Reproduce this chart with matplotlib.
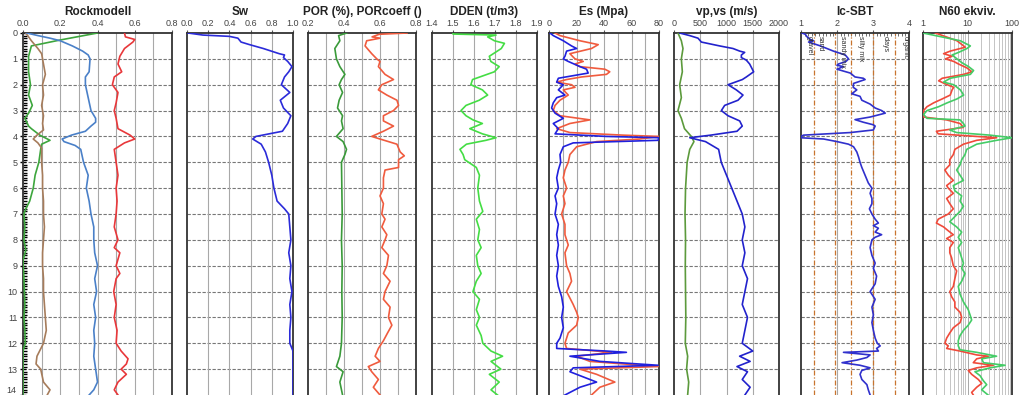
import numpy as np
import matplotlib
matplotlib.use('Agg')
import matplotlib.pyplot as plt
from matplotlib.ticker import MultipleLocator, FixedLocator, NullFormatter

plt.rcParams['font.family'] = ['Liberation Sans', 'DejaVu Sans']

# ---- Rockmodell ----
rock_green_d = [0, 0.27, 0.5, 0.9, 1.5, 2.0, 2.4, 2.8, 3.1, 3.3, 3.6, 3.7, 3.95, 4.15, 4.3, 4.5, 5.0, 5.5, 6.0, 6.5, 6.8, 7.0, 7.5, 8.0, 8.4, 8.8, 9.5, 10.5, 11.0, 11.5, 12.0, 12.3, 14.0]
rock_green = [0.40, 0.20, 0.045, 0.03, 0.03, 0.04, 0.03, 0.05, 0.03, 0.01, 0.03, 0.045, 0.09, 0.145, 0.10, 0.095, 0.085, 0.065, 0.055, 0.036, 0.015, 0.005, 0.01, 0.005, 0.015, 0.0, 0.005, 0.01, 0.005, 0.01, 0.012, 0.0, 0.0]
rock_brown_d = [0, 0.3, 0.6, 0.8, 1.2, 1.6, 2.0, 2.4, 2.8, 3.2, 3.5, 3.75, 3.95, 4.1, 4.25, 4.45, 5.0, 5.5, 6.0, 6.5, 7.0, 7.5, 8.0, 8.5, 9.0, 9.5, 10.0, 10.5, 11.0, 11.5, 12.0, 12.5, 12.8, 13.0, 13.5, 13.8, 14.0]
rock_brown = [0.015, 0.045, 0.08, 0.10, 0.11, 0.12, 0.105, 0.11, 0.10, 0.11, 0.105, 0.11, 0.075, 0.055, 0.08, 0.10, 0.10, 0.105, 0.105, 0.11, 0.11, 0.115, 0.11, 0.105, 0.105, 0.11, 0.11, 0.115, 0.12, 0.125, 0.11, 0.075, 0.07, 0.095, 0.11, 0.145, 0.13]
rock_blue_d = [0, 0.1, 0.2, 0.3, 0.5, 0.7, 0.85, 1.0, 1.5, 1.7, 2.0, 2.5, 3.0, 3.3, 3.45, 3.6, 3.8, 3.95, 4.1, 4.2, 4.35, 4.5, 5.0, 5.5, 6.0, 6.5, 7.0, 7.5, 8.0, 8.5, 9.0, 9.5, 10.0, 10.5, 11.0, 11.5, 12.0, 12.5, 13.0, 13.5, 13.8, 14.0]
rock_blue = [0.02, 0.08, 0.145, 0.20, 0.265, 0.32, 0.35, 0.36, 0.355, 0.335, 0.335, 0.35, 0.365, 0.39, 0.39, 0.365, 0.335, 0.26, 0.21, 0.22, 0.28, 0.31, 0.325, 0.35, 0.34, 0.355, 0.365, 0.38, 0.38, 0.385, 0.40, 0.385, 0.395, 0.38, 0.39, 0.38, 0.385, 0.38, 0.39, 0.40, 0.38, 0.355]
rock_red_d = [0, 0.15, 0.25, 0.35, 0.6, 0.9, 1.2, 1.5, 1.7, 2.0, 2.3, 2.7, 3.0, 3.3, 3.7, 3.95, 4.1, 4.25, 4.5, 5.0, 5.5, 6.0, 6.5, 7.0, 7.5, 8.0, 8.3, 8.5, 9.0, 9.3, 9.5, 10.0, 10.5, 11.0, 11.5, 12.0, 12.3, 12.6, 12.8, 13.0, 13.2, 13.5, 13.8, 14.0]
rock_red = [0.545, 0.55, 0.60, 0.59, 0.545, 0.52, 0.51, 0.53, 0.49, 0.48, 0.51, 0.50, 0.49, 0.50, 0.51, 0.575, 0.60, 0.545, 0.49, 0.50, 0.51, 0.50, 0.505, 0.50, 0.49, 0.51, 0.49, 0.52, 0.50, 0.52, 0.50, 0.487, 0.50, 0.49, 0.505, 0.50, 0.527, 0.564, 0.555, 0.527, 0.555, 0.51, 0.49, 0.51]

# ---- Sw ----
sw_d = [0, 0.08, 0.13, 0.2, 0.35, 0.45, 0.6, 0.8, 0.85, 0.95, 1.1, 1.3, 1.5, 1.7, 2.0, 2.3, 2.6, 2.9, 3.2, 3.5, 3.8, 4.0, 4.1, 4.3, 4.6, 5.0, 5.5, 6.0, 6.5, 6.8, 7.0, 7.5, 8.0, 8.5, 9.0, 9.5, 10.0, 10.5, 11.0, 11.5, 12.0, 12.3, 14.0]
sw = [0.01, 0.15, 0.40, 0.48, 0.51, 0.59, 0.72, 0.87, 0.92, 0.91, 0.95, 0.99, 0.96, 0.92, 0.89, 0.97, 0.88, 0.91, 0.98, 0.95, 0.90, 0.65, 0.62, 0.70, 0.74, 0.77, 0.80, 0.82, 0.85, 0.92, 0.96, 0.97, 0.98, 0.96, 0.98, 0.97, 0.99, 0.97, 0.98, 0.97, 0.97, 1.0, 1.0]

# ---- POR (%), PORcoeff () ----
por_d = [0, 0.1, 0.3, 0.6, 1.0, 1.3, 1.6, 1.8, 2.0, 2.3, 2.6, 2.9, 3.2, 3.4, 3.7, 4.0, 4.2, 4.5, 4.7, 5.0, 6.0, 7.0, 8.0, 9.0, 10.0, 11.0, 12.0, 12.5, 12.9, 13.1, 13.5, 14.0]
por = [0.415, 0.37, 0.377, 0.349, 0.358, 0.377, 0.405, 0.386, 0.373, 0.392, 0.373, 0.364, 0.392, 0.386, 0.395, 0.358, 0.395, 0.414, 0.405, 0.386, 0.388, 0.39, 0.386, 0.39, 0.388, 0.39, 0.386, 0.377, 0.358, 0.395, 0.377, 0.392]
porc_d = [0, 0.05, 0.15, 0.2, 0.3, 0.5, 0.8, 1.0, 1.1, 1.3, 1.6, 1.8, 2.0, 2.2, 2.4, 2.6, 2.8, 3.0, 3.2, 3.4, 3.6, 3.8, 4.0, 4.1, 4.3, 4.6, 4.75, 4.9, 5.2, 5.3, 5.6, 6.0, 6.3, 6.6, 7.0, 7.2, 7.5, 7.8, 8.0, 8.3, 8.6, 9.0, 9.3, 9.6, 10.0, 10.3, 10.6, 11.0, 11.3, 11.6, 11.9, 12.2, 12.5, 12.7, 12.9, 13.1, 13.4, 13.7, 14.0]
porc = [0.75, 0.595, 0.556, 0.60, 0.526, 0.517, 0.554, 0.582, 0.60, 0.591, 0.628, 0.675, 0.61, 0.591, 0.638, 0.694, 0.703, 0.675, 0.619, 0.619, 0.675, 0.619, 0.554, 0.60, 0.694, 0.712, 0.735, 0.703, 0.703, 0.628, 0.619, 0.619, 0.60, 0.619, 0.61, 0.628, 0.61, 0.638, 0.628, 0.61, 0.647, 0.638, 0.619, 0.656, 0.628, 0.619, 0.656, 0.647, 0.666, 0.642, 0.619, 0.591, 0.573, 0.60, 0.535, 0.554, 0.591, 0.563, 0.60]

# ---- DDEN (t/m3) ----
dden_d = [0, 0.04, 0.08, 0.15, 0.3, 0.4, 0.6, 0.9, 1.1, 1.3, 1.5, 1.8, 2.0, 2.2, 2.4, 2.6, 2.8, 3.0, 3.2, 3.36, 3.5, 3.7, 3.9, 4.05, 4.15, 4.3, 4.5, 4.7, 4.9, 5.2, 5.5, 6.0, 6.5, 6.9, 7.2, 7.6, 8.0, 8.3, 8.6, 9.0, 9.3, 9.6, 10.0, 10.3, 10.7, 11.0, 11.3, 11.7, 12.0, 12.3, 12.5, 12.7, 13.0, 13.2, 13.5, 13.8, 14.0]
dden = [1.50, 1.50, 1.705, 1.665, 1.697, 1.745, 1.73, 1.673, 1.68, 1.72, 1.697, 1.593, 1.585, 1.64, 1.665, 1.625, 1.562, 1.538, 1.562, 1.595, 1.64, 1.58, 1.64, 1.705, 1.657, 1.564, 1.533, 1.548, 1.556, 1.611, 1.626, 1.618, 1.626, 1.642, 1.611, 1.626, 1.618, 1.634, 1.611, 1.618, 1.634, 1.611, 1.595, 1.626, 1.611, 1.626, 1.611, 1.634, 1.642, 1.681, 1.736, 1.681, 1.728, 1.673, 1.72, 1.681, 1.712]

# ---- Es (Mpa) ----
es_red_d = [0, 0.1, 0.3, 0.45, 0.6, 0.8, 1.0, 1.1, 1.2, 1.3, 1.4, 1.5, 1.6, 1.7, 1.8, 1.9, 2.0, 2.1, 2.2, 2.4, 2.6, 2.8, 3.0, 3.2, 3.36, 3.5, 3.7, 3.85, 3.95, 4.0, 4.1, 4.2, 4.4, 4.7, 5.0, 5.3, 5.6, 6.0, 6.3, 6.6, 7.0, 7.4, 7.8, 8.2, 8.5, 9.0, 9.3, 9.6, 10.0, 10.5, 10.8, 11.0, 11.3, 11.6, 12.0, 12.2, 12.35, 12.5, 12.7, 12.9, 13.0, 13.2, 13.5, 13.7, 14.0]
es_red = [4.4, 8.0, 22.5, 35.8, 30.9, 15.2, 18.9, 24.9, 18.9, 22.5, 40.6, 44.2, 41.8, 23.7, 12.8, 5.6, 16.4, 18.9, 10.4, 14.0, 8.0, 4.4, 3.1, 8.0, 29.7, 15.2, 5.6, 15.2, 53.9, 80.0, 66.0, 34.6, 20.1, 15.2, 14.0, 11.6, 10.4, 12.8, 10.4, 11.6, 9.2, 11.6, 11.6, 14.0, 11.6, 12.8, 15.2, 16.4, 12.8, 17.6, 20.1, 21.3, 20.1, 14.0, 11.6, 12.8, 45.4, 20.1, 29.7, 79.3, 22.5, 34.6, 47.9, 37.0, 30.9]
es_blue_d = [0, 0.1, 0.3, 0.5, 0.6, 0.7, 0.9, 1.0, 1.1, 1.3, 1.4, 1.55, 1.65, 1.75, 1.9, 2.0, 2.2, 2.4, 2.5, 2.7, 2.9, 3.1, 3.3, 3.5, 3.7, 3.9, 4.0, 4.05, 4.15, 4.25, 4.4, 4.7, 5.0, 5.3, 5.6, 6.0, 6.3, 6.6, 7.0, 7.4, 7.8, 8.2, 8.6, 9.0, 9.4, 9.8, 10.2, 10.6, 11.0, 11.4, 11.8, 12.0, 12.2, 12.3, 12.35, 12.5, 12.7, 12.85, 12.95, 13.1, 13.3, 13.5, 13.7, 14.0]
es_blue = [0.7, 3.1, 10.4, 16.4, 20.1, 12.8, 11.6, 10.4, 14.0, 22.5, 27.3, 28.5, 17.6, 6.8, 5.6, 10.4, 6.8, 11.6, 5.6, 3.1, 1.9, 4.4, 10.4, 3.1, 6.8, 4.4, 41.8, 80.0, 79.3, 17.6, 10.4, 8.0, 8.5, 6.8, 5.6, 6.8, 4.4, 5.6, 4.4, 6.8, 5.6, 6.8, 5.6, 6.8, 5.6, 6.8, 9.2, 10.4, 9.2, 10.4, 8.0, 5.6, 5.6, 41.8, 56.3, 15.2, 37.0, 79.3, 17.6, 15.2, 24.9, 34.6, 22.5, 11.6]

# ---- vp,vs (m/s) ----
vp_d = [0, 0.1, 0.2, 0.35, 0.5, 0.6, 0.7, 0.75, 0.85, 0.95, 1.05, 1.2, 1.5, 1.7, 1.8, 2.0, 2.2, 2.4, 2.6, 2.8, 3.0, 3.2, 3.4, 3.6, 3.8, 3.95, 4.05, 4.2, 4.5, 5.0, 5.5, 6.0, 6.5, 7.0, 7.5, 8.0, 8.5, 9.0, 9.5, 10.0, 10.5, 11.0, 11.5, 12.0, 12.3, 12.5, 12.7, 12.9, 13.1, 13.4, 13.7, 14.0]
vp = [108, 298, 457, 521, 870, 1124, 1251, 1346, 1283, 1283, 1378, 1441, 1517, 1378, 1302, 1029, 1187, 1314, 1219, 965, 902, 1029, 1251, 1300, 1200, 700, 300, 600, 850, 900, 1000, 1100, 1200, 1300, 1350, 1300, 1350, 1300, 1400, 1350, 1300, 1400, 1350, 1300, 1500, 1250, 1450, 1200, 1400, 1300, 1450, 1350]
vs_d = [0, 0.3, 0.6, 1.0, 1.5, 2.0, 2.5, 3.0, 3.3, 3.7, 4.0, 4.2, 4.5, 5.0, 6.0, 7.0, 8.0, 9.0, 10.0, 11.0, 12.0, 12.5, 13.0, 13.5, 14.0]
vs = [76, 140, 171, 140, 159, 108, 140, 76, 140, 200, 330, 380, 300, 250, 220, 210, 220, 215, 220, 225, 215, 260, 240, 280, 260]

# ---- Ic-SBT ----
ic_d = [0, 0.05, 0.15, 0.25, 0.3, 0.35, 0.5, 0.6, 0.7, 0.85, 1.0, 1.1, 1.2, 1.25, 1.3, 1.4, 1.55, 1.7, 1.75, 1.8, 1.95, 2.1, 2.2, 2.35, 2.45, 2.6, 2.75, 2.9, 3.0, 3.1, 3.25, 3.35, 3.45, 3.55, 3.6, 3.75, 3.85, 3.95, 4.0, 4.05, 4.1, 4.2, 4.3, 4.4, 4.6, 4.8, 5.0, 5.2, 5.5, 5.8, 6.0, 6.2, 6.4, 6.6, 6.8, 7.0, 7.2, 7.35, 7.45, 7.55, 7.7, 7.8, 7.9, 8.0, 8.3, 8.6, 8.9, 9.1, 9.4, 9.7, 10.0, 10.3, 10.6, 10.9, 11.2, 11.5, 11.8, 12.0, 12.1, 12.2, 12.3, 12.35, 12.45, 12.55, 12.65, 12.75, 12.85, 12.95, 13.05, 13.2, 13.4, 13.6, 13.8, 14.0]
ic = [1.03, 1.12, 1.17, 1.26, 1.35, 1.21, 1.54, 1.72, 1.90, 2.23, 2.32, 2.25, 2.04, 2.00, 2.18, 2.00, 2.37, 2.50, 2.73, 2.78, 2.46, 2.45, 2.55, 2.41, 2.64, 2.69, 2.92, 3.06, 3.24, 3.34, 2.92, 2.50, 2.73, 3.01, 3.06, 3.01, 2.37, 1.07, 1.00, 0.98, 1.63, 2.00, 2.32, 2.46, 2.55, 2.60, 2.64, 2.69, 2.78, 2.87, 2.97, 2.92, 2.97, 2.97, 2.90, 2.97, 3.06, 3.15, 3.01, 3.15, 3.06, 3.24, 3.06, 2.97, 2.92, 2.97, 3.06, 3.01, 3.10, 3.06, 2.92, 3.06, 2.97, 3.01, 2.97, 3.01, 3.06, 3.12, 3.20, 3.10, 3.15, 2.18, 2.92, 2.83, 2.55, 2.14, 2.64, 2.92, 2.69, 2.64, 2.69, 2.83, 2.87, 2.92]
ic_bounds = [1.37, 1.95, 2.4, 3.0, 3.6]
ic_zone_x = [1.23, 1.54, 2.14, 2.66, 3.34, 3.89]
ic_zone_names = ['gravel', 'sand', 'sandy mix', 'silty mix', 'clays', 'organic']

# ---- N60 ekviv. ----
n60_red_d = [0, 0.3, 0.5, 0.55, 0.7, 0.8, 0.9, 1.0, 1.1, 1.2, 1.35, 1.5, 1.6, 1.75, 1.85, 2.0, 2.1, 2.2, 2.4, 2.55, 2.7, 2.85, 3.0, 3.15, 3.25, 3.36, 3.5, 3.65, 3.8, 3.9, 4.0, 4.05, 4.15, 4.3, 4.5, 4.7, 4.9, 5.1, 5.3, 5.5, 5.7, 5.9, 6.0, 6.2, 6.4, 6.6, 6.8, 7.0, 7.2, 7.35, 7.5, 7.65, 7.8, 7.95, 8.1, 8.3, 8.5, 8.7, 9.0, 9.2, 9.5, 9.8, 10.0, 10.2, 10.4, 10.6, 10.8, 11.0, 11.2, 11.4, 11.6, 11.8, 12.0, 12.1, 12.2, 12.3, 12.45, 12.5, 12.6, 12.75, 12.85, 12.95, 13.05, 13.2, 13.4, 13.55, 13.7, 13.9, 14.0]
n60_red = [1.9, 5.8, 8.2, 8.9, 4.1, 2.9, 4.5, 3.2, 4.9, 6.3, 9.7, 12.6, 8.2, 2.7, 2.25, 3.5, 4.9, 4.5, 4.1, 2.7, 1.74, 1.23, 1.03, 1.0, 1.03, 3.4, 6.8, 8.1, 2.0, 2.2, 16.1, 45.3, 16.1, 8.1, 5.2, 4.8, 4.0, 4.0, 3.1, 3.7, 4.8, 3.4, 3.7, 4.8, 3.4, 4.0, 4.8, 3.7, 2.2, 2.0, 2.9, 3.7, 4.8, 3.4, 4.8, 4.0, 4.0, 4.4, 4.8, 5.7, 5.2, 4.8, 4.0, 4.4, 5.2, 5.2, 6.8, 7.4, 6.8, 4.8, 4.0, 3.4, 3.1, 3.7, 3.4, 6.8, 16.1, 29.4, 16.1, 13.5, 38.0, 16.1, 10.4, 12.4, 17.5, 20.9, 16.1, 12.4, 13.5]
n60_green_d = [0, 0.3, 0.5, 0.6, 0.75, 0.85, 1.0, 1.15, 1.3, 1.45, 1.6, 1.75, 1.9, 2.0, 2.2, 2.4, 2.55, 2.7, 2.85, 3.0, 3.15, 3.3, 3.36, 3.5, 3.6, 3.75, 3.85, 3.95, 4.05, 4.15, 4.3, 4.5, 4.7, 4.9, 5.1, 5.3, 5.5, 5.7, 5.9, 6.1, 6.3, 6.5, 6.7, 6.9, 7.1, 7.3, 7.5, 7.7, 7.9, 8.1, 8.3, 8.5, 8.7, 8.9, 9.1, 9.3, 9.6, 9.8, 10.1, 10.4, 10.7, 10.9, 11.1, 11.3, 11.5, 11.7, 11.9, 12.1, 12.25, 12.35, 12.5, 12.6, 12.75, 12.85, 12.95, 13.1, 13.25, 13.45, 13.6, 13.8, 14.0]
n60_green = [1.0, 6.9, 11.6, 9.7, 6.3, 4.5, 5.8, 7.5, 10.6, 13.7, 11.6, 4.1, 2.9, 4.9, 6.9, 8.2, 5.8, 3.5, 2.25, 1.23, 1.03, 1.23, 6.8, 8.1, 8.8, 4.0, 5.7, 32.0, 100.0, 45.0, 16.1, 9.6, 8.8, 7.4, 6.8, 5.7, 6.8, 8.1, 4.8, 5.2, 7.4, 6.8, 8.1, 6.8, 5.2, 4.0, 5.7, 7.4, 6.2, 7.4, 6.2, 6.8, 7.4, 8.1, 7.4, 8.8, 7.4, 6.2, 6.8, 8.1, 10.4, 11.4, 12.4, 10.4, 8.1, 6.8, 6.2, 6.2, 6.8, 16.1, 45.0, 20.9, 22.8, 70.0, 32.0, 14.7, 19.1, 22.8, 27.0, 20.9, 29.0]

# ---------------------------------------------------------------
fig = plt.figure(figsize=(10.24, 3.95), dpi=100)
W, H = 1024.0, 395.0
top_px = 33
panels = [(23, 172), (187, 293), (308, 416), (432, 537), (549, 659), (674, 779), (801, 909), (923, 1012)]
axes = []
for x0, x1 in panels:
    ax = fig.add_axes([x0 / W, 0.0, (x1 - x0) / W, 1 - top_px / H])
    axes.append(ax)

tick_col = '#444444'

def style(ax, xlim, major, grid_step=None, title='', fmt='{:.1f}'):
    ax.set_xlim(*xlim)
    ax.set_ylim(14, 0)
    ax.xaxis.tick_top()
    ax.set_xticks(major)
    ax.set_xticklabels([fmt.format(v) for v in major], fontsize=6.5, color=tick_col)
    ax.tick_params(axis='x', length=2, pad=1.5, color='#555555')
    ax.set_yticks(range(0, 15))
    for y in range(1, 14):
        ax.axhline(y, color='#777777', lw=0.8, ls=(0, (3, 1.5)), zorder=1)
    if grid_step is not None:
        for gx in np.arange(xlim[0] + grid_step, xlim[1] - 1e-9, grid_step):
            ax.axvline(gx, color='#a8a8a8', lw=0.8, zorder=1)
    for s in ['left', 'right', 'top']:
        ax.spines[s].set_color('#333333')
        ax.spines[s].set_linewidth(1.3)
    ax.spines['bottom'].set_visible(False)
    ax.set_title(title, fontsize=8.5, fontweight='bold', color='#222222', pad=3)

lw = 1.2

# Rockmodell
ax = axes[0]
style(ax, (0, 0.8), [0, 0.2, 0.4, 0.6, 0.8], 0.1, 'Rockmodell')
ax.plot(rock_green, rock_green_d, color='#3da63d', lw=lw, zorder=3)
ax.plot(rock_brown, rock_brown_d, color='#a67c5b', lw=lw, zorder=3)
ax.plot(rock_blue, rock_blue_d, color='#4a80c8', lw=lw, zorder=3)
ax.plot(rock_red, rock_red_d, color='#e8373a', lw=lw, zorder=3)
ax.set_yticklabels([str(v) for v in range(14)] + [''], fontsize=6.5, color=tick_col)
ax.text(-0.035, 14, '14', fontsize=6.5, color=tick_col, ha='right', va='bottom')
ax.yaxis.set_minor_locator(MultipleLocator(0.1))
ax.tick_params(axis='y', which='minor', direction='in', length=3, width=1.0, color='black')
ax.tick_params(axis='y', which='major', direction='inout', length=4, width=1.0, pad=2, color='black')

# Sw
ax = axes[1]
style(ax, (0, 1.0), [0, 0.2, 0.4, 0.6, 0.8, 1.0], 0.2, 'Sw')
ax.plot(sw, sw_d, color='#2b2bd9', lw=lw, zorder=3)

# POR
ax = axes[2]
style(ax, (0.2, 0.8), [0.2, 0.4, 0.6, 0.8], 0.1, 'POR (%), PORcoeff ()')
ax.plot(por, por_d, color='#3a9a3a', lw=lw, zorder=3)
ax.plot(porc, porc_d, color='#f05b3e', lw=lw, zorder=3)

# DDEN
ax = axes[3]
style(ax, (1.4, 1.9), [1.4, 1.5, 1.6, 1.7, 1.8, 1.9], 0.1, 'DDEN (t/m3)')
ax.plot(dden, dden_d, color='#44dd44', lw=lw, zorder=3)

# Es
ax = axes[4]
style(ax, (0, 80), [0, 20, 40, 60, 80], 10, 'Es (Mpa)', fmt='{:.0f}')
ax.plot(es_red, es_red_d, color='#f05b3e', lw=lw, zorder=3)
ax.plot(es_blue, es_blue_d, color='#2020dd', lw=lw, zorder=3)

# vp, vs
ax = axes[5]
style(ax, (0, 2000), [0, 500, 1000, 1500, 2000], 500, 'vp,vs (m/s)', fmt='{:.0f}')
ax.plot(vs, vs_d, color='#5c9a3c', lw=lw, zorder=3)
ax.plot(vp, vp_d, color='#2222cc', lw=lw, zorder=3)

# Ic-SBT
ax = axes[6]
style(ax, (1, 4), [1, 2, 3, 4], 1.0, 'Ic-SBT', fmt='{:.0f}')
ax.xaxis.set_minor_locator(MultipleLocator(0.1))
ax.tick_params(axis='x', which='minor', direction='in', length=2.5, color='#555555')
for b in ic_bounds:
    ax.axvline(b, color='#c8742e', lw=0.9, ls=(0, (4, 1.5, 1, 1.5)), zorder=2)
for xz, name in zip(ic_zone_x, ic_zone_names):
    ax.text(xz, 0.1, name, rotation=270, fontsize=5, ha='center', va='top', color='#333333', zorder=4)
ax.plot(ic, ic_d, color='#3030cc', lw=lw, zorder=3)

# N60
ax = axes[7]
ax.set_xscale('log')
style(ax, (1, 100), [1, 10, 100], None, 'N60 ekviv.', fmt='{:.0f}')
ax.xaxis.set_minor_locator(FixedLocator([m * 10 ** e for e in (0, 1) for m in range(2, 10)]))
ax.xaxis.set_minor_formatter(NullFormatter())
ax.tick_params(axis='x', which='minor', length=0)
for e in (0, 1):
    for m in range(2, 11):
        ax.axvline(m * 10 ** e, color='#a8a8a8' if m == 10 else '#c4c4c4', lw=0.7, zorder=1)
ax.plot(n60_red, n60_red_d, color='#f04a3a', lw=lw, zorder=3)
ax.plot(n60_green, n60_green_d, color='#44cc66', lw=lw, zorder=3)

for ax in axes[1:]:
    ax.set_yticklabels([])
    ax.tick_params(axis='y', length=0)

fig.savefig('out.png', dpi=100)
